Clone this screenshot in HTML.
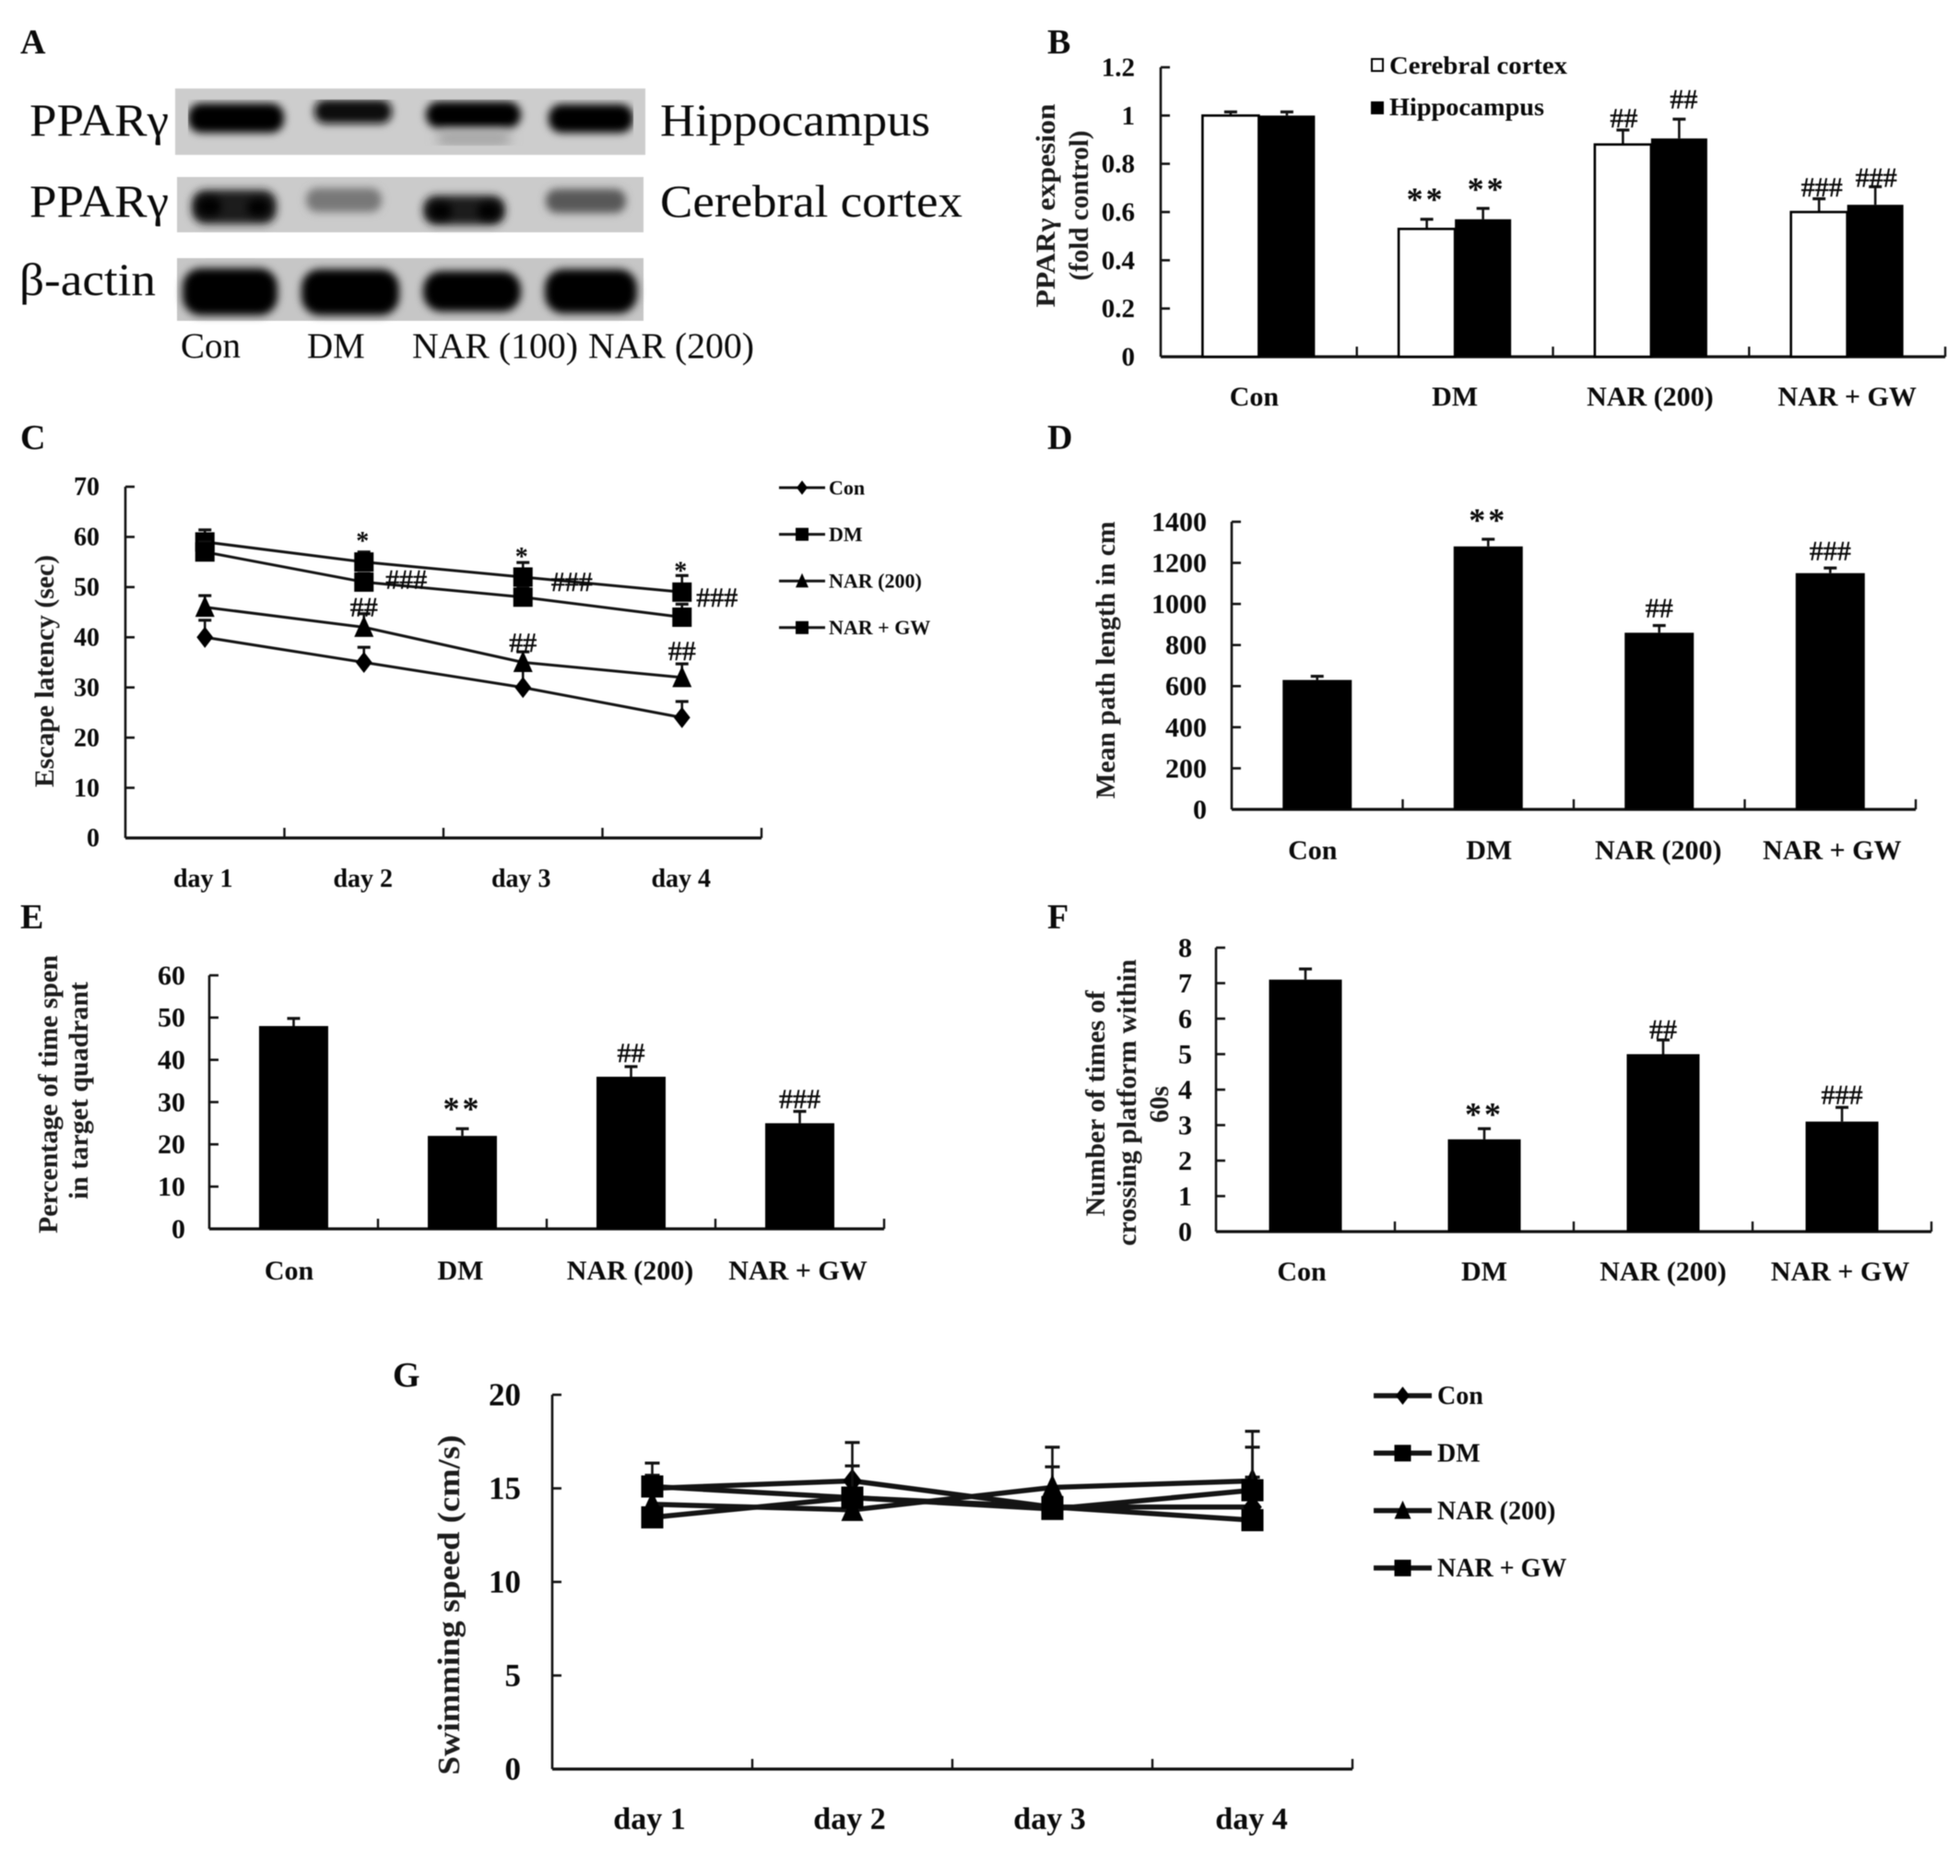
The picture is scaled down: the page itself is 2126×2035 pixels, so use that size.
<!DOCTYPE html>
<html lang="en">
<head>
<meta charset="utf-8">
<title>PPARγ expression and behavioural panels A–G</title>
<style>
  html, body { margin: 0; padding: 0; background: #fff; }
  #figure { display: block; width: 2126px; height: 2035px; filter: blur(0.5px); }
  text { font-family: "Liberation Serif", "Noto Serif CJK SC", serif; fill: #0a0a0a; }
  .letter { font-size: 38px; font-weight: bold; }
  .blot-label { font-size: 50px; font-weight: normal; }
  .lane-label { font-size: 39px; font-weight: normal; }
  .axis-title { font-size: 30px; font-weight: bold; fill: #1c1c1c; }
</style>
</head>
<body>
<svg id="figure" xmlns="http://www.w3.org/2000/svg" width="2126" height="2035" viewBox="0 0 2126 2035">
  <defs>
    <filter id="band-blur" x="-30%" y="-60%" width="160%" height="220%"><feGaussianBlur stdDeviation="4.5"></feGaussianBlur></filter>
    <filter id="soft-blur" x="-30%" y="-60%" width="160%" height="220%"><feGaussianBlur stdDeviation="6"></feGaussianBlur></filter>
    <filter id="halo-blur" x="-30%" y="-60%" width="160%" height="220%"><feGaussianBlur stdDeviation="7"></feGaussianBlur></filter>
  </defs>
  <rect width="2126" height="2035" fill="#fff"></rect>

  <text class="letter" x="22" y="58">A</text>
  <text class="letter" x="1136" y="58">B</text>
  <text class="letter" x="22" y="487">C</text>
  <text class="letter" x="1136" y="487">D</text>
  <text class="letter" x="22" y="1007">E</text>
  <text class="letter" x="1136" y="1007">F</text>
  <text class="letter" x="426" y="1504">G</text>

  <g>
    <g>
      <rect x="190" y="96" width="510" height="72" fill="#cdcdcd"></rect>
      <g clip-path="inset(0)">
        <rect x="204" y="112" width="104" height="32" rx="14" fill="#000" filter="url(#band-blur)"></rect>
        <rect x="341" y="108" width="84" height="26" rx="12" fill="#0c0c0c" filter="url(#band-blur)"></rect>
        <rect x="462" y="110" width="103" height="29" rx="14" fill="#000" filter="url(#band-blur)"></rect>
        <rect x="595" y="113" width="92" height="31" rx="14" fill="#000" filter="url(#band-blur)"></rect>
        <rect x="474" y="142" width="80" height="16" rx="8" fill="#a4a4a4" filter="url(#soft-blur)"></rect>
      </g>
    </g>
    <g>
      <rect x="192" y="192" width="506" height="60" fill="#cbcbcb"></rect>
      <rect x="208" y="206" width="92" height="37" rx="15" fill="#1d1d1d" filter="url(#band-blur)"></rect>
      <rect x="214" y="214" width="26" height="20" rx="10" fill="#000" filter="url(#band-blur)"></rect>
      <rect x="268" y="216" width="24" height="18" rx="9" fill="#000" filter="url(#band-blur)"></rect>
      <rect x="332" y="204" width="82" height="26" rx="12" fill="#787878" filter="url(#band-blur)"></rect>
      <rect x="459" y="212" width="89" height="32" rx="14" fill="#1a1a1a" filter="url(#band-blur)"></rect>
      <rect x="466" y="220" width="24" height="18" rx="9" fill="#000" filter="url(#band-blur)"></rect>
      <rect x="518" y="220" width="24" height="18" rx="9" fill="#000" filter="url(#band-blur)"></rect>
      <rect x="592" y="205" width="87" height="26" rx="12" fill="#585858" filter="url(#band-blur)"></rect>
    </g>
    <g>
      <rect x="192" y="280" width="506" height="68" fill="#c6c6c6"></rect>
      <rect x="198" y="291" width="103" height="51" rx="20" fill="#000" filter="url(#band-blur)"></rect>
      <rect x="327" y="292" width="106" height="50" rx="20" fill="#000" filter="url(#band-blur)"></rect>
      <rect x="459" y="294" width="106" height="44" rx="20" fill="#000" filter="url(#band-blur)"></rect>
      <rect x="591" y="292" width="100" height="48" rx="20" fill="#000" filter="url(#band-blur)"></rect>
    </g>
    <text class="blot-label" x="32" y="147" textLength="151" lengthAdjust="spacingAndGlyphs">PPARγ</text>
    <text class="blot-label" x="32" y="235" textLength="151" lengthAdjust="spacingAndGlyphs">PPARγ</text>
    <text class="blot-label" x="21" y="320" textLength="148" lengthAdjust="spacingAndGlyphs">β-actin</text>
    <text class="blot-label" x="716" y="147" textLength="293" lengthAdjust="spacingAndGlyphs">Hippocampus</text>
    <text class="blot-label" x="716" y="235" textLength="328" lengthAdjust="spacingAndGlyphs">Cerebral cortex</text>
    <text class="lane-label" x="196" y="388">Con</text>
    <text class="lane-label" x="333" y="388">DM</text>
    <text class="lane-label" x="447" y="388" textLength="180" lengthAdjust="spacingAndGlyphs">NAR (100)</text>
    <text class="lane-label" x="638" y="388" textLength="180" lengthAdjust="spacingAndGlyphs">NAR (200)</text>
  </g>

  <text class="axis-title" transform="translate(1144,223) rotate(-90)" text-anchor="middle" textLength="221" lengthAdjust="spacingAndGlyphs">PPARγ expesion</text>
  <text class="axis-title" transform="translate(1180,223) rotate(-90)" text-anchor="middle" textLength="163" lengthAdjust="spacingAndGlyphs">(fold control)</text>
  <text class="axis-title" transform="translate(58,728) rotate(-90)" text-anchor="middle" textLength="252" lengthAdjust="spacingAndGlyphs">Escape latency (sec)</text>
  <text class="axis-title" transform="translate(1209,716) rotate(-90)" text-anchor="middle" textLength="301" lengthAdjust="spacingAndGlyphs">Mean path length in cm</text>
  <text class="axis-title" transform="translate(62,1187) rotate(-90)" text-anchor="middle" textLength="302" lengthAdjust="spacingAndGlyphs">Percentage of time spen</text>
  <text class="axis-title" transform="translate(95,1183) rotate(-90)" text-anchor="middle" textLength="236" lengthAdjust="spacingAndGlyphs">in target quadrant</text>
  <text class="axis-title" transform="translate(1198,1197) rotate(-90)" text-anchor="middle" textLength="245" lengthAdjust="spacingAndGlyphs">Number of times of</text>
  <text class="axis-title" transform="translate(1232,1196) rotate(-90)" text-anchor="middle" textLength="311" lengthAdjust="spacingAndGlyphs">crossing platform within</text>
  <text class="axis-title" transform="translate(1267,1198) rotate(-90)" text-anchor="middle" textLength="40" lengthAdjust="spacingAndGlyphs">60s</text>
  <text class="axis-title" style="font-size:34px" transform="translate(498,1741) rotate(-90)" text-anchor="middle" textLength="369" lengthAdjust="spacingAndGlyphs">Swimming speed (cm/s)</text>
</svg>

<script>
// ---- shared categories ----
const groupCategories = ["Con", "DM", "NAR (200)", "NAR + GW"];
const dayCategories = ["day 1", "day 2", "day 3", "day 4"];
const lineSeriesNames = ["Con", "DM", "NAR (200)", "NAR + GW"];

// ---- panel B ----
const bTicks = ["0", "0.2", "0.4", "0.6", "0.8", "1", "1.2"];
const bTickValues = [0, 0.2, 0.4, 0.6, 0.8, 1, 1.2];
const bCortex = [1, 0.53, 0.88, 0.6];
const bCortexErrTop = [1.015, 0.57, 0.94, 0.655];
const bHippocampus = [1, 0.57, 0.905, 0.63];
const bHippocampusErrTop = [1.015, 0.615, 0.985, 0.705];
const bCortexSig = ["", "**", "##", "###"];
const bHippocampusSig = ["", "**", "##", "###"];

// ---- panel C ----
const cTicks = ["0", "10", "20", "30", "40", "50", "60", "70"];
const cTickValues = [0, 10, 20, 30, 40, 50, 60, 70];
const cCon = [40, 35, 30, 24];
const cConErrTop = [43.4, 38, 33.7, 27.2];
const cDm = [59, 55, 52, 49];
const cDmErrTop = [61.4, 57, 54.9, 52.3];
const cNar = [46, 42, 35, 32];
const cNarErrTop = [48.3, 44.7, 37.1, 34.7];
const cGw = [57, 51, 48, 44];
const cGwErrTop = [59, 52.7, 49.8, 46.6];
const cDmSig = ["", "*", "*", "*"];
const cNarSig = ["", "##", "##", "##"];
const cGwSig = ["", "###", "###", "###"];

// ---- panel D ----
const dTicks = ["0", "200", "400", "600", "800", "1000", "1200", "1400"];
const dTickValues = [0, 200, 400, 600, 800, 1000, 1200, 1400];
const dValues = [630, 1280, 860, 1150];
const dErrTop = [648, 1315, 895, 1175];
const dSig = ["", "**", "##", "###"];

// ---- panel E ----
const eTicks = ["0", "10", "20", "30", "40", "50", "60"];
const eTickValues = [0, 10, 20, 30, 40, 50, 60];
const eValues = [48, 22, 36, 25];
const eErrTop = [49.8, 23.7, 38.4, 27.8];
const eSig = ["", "**", "##", "###"];

// ---- panel F ----
const fTicks = ["0", "1", "2", "3", "4", "5", "6", "7", "8"];
const fTickValues = [0, 1, 2, 3, 4, 5, 6, 7, 8];
const fValues = [7.1, 2.6, 5, 3.1];
const fErrTop = [7.4, 2.9, 5.4, 3.5];
const fSig = ["", "**", "##", "###"];

// ---- panel G ----
const gTicks = ["0", "5", "10", "15", "20"];
const gTickValues = [0, 5, 10, 15, 20];
const gCon = [15, 15.4, 14, 14];
const gConErrTop = [15.7, 17.45, 16.15, 15.6];
const gDm = [15.1, 14.5, 14, 13.3];
const gDmErrTop = [16.35, 16.2, 14, 13.3];
const gNar = [14.15, 13.85, 15.05, 15.4];
const gNarErrTop = [14.15, 13.85, 17.2, 18.05];
const gGw = [13.45, 14.5, 13.9, 14.9];
const gGwErrTop = [13.45, 14.5, 13.9, 17.2];

const svgNS = "http://www.w3.org/2000/svg";
const root = document.getElementById("figure");

function mk(parent, tag, attrs, name, text) {
  const el = document.createElementNS(svgNS, tag);
  for (const k in attrs) el.setAttribute(k, attrs[k]);
  
  
  if (text !== undefined) el.textContent = text;
  parent.appendChild(el);
  return el;
}
function scale(d0, d1, r0, r1) {
  return function (v) { return r0 + (v - d0) / (d1 - d0) * (r1 - r0); };
}

function drawAxes(id, g, box, yMax, tickLabels, tickValues, cats, opt) {
  const y = scale(0, yMax, box.y0, box.y1);
  const n = cats.length;
  const band = (box.x1 - box.x0) / n;
  const xc = function (i) { return box.x0 + (i + 0.5) * band; };
  mk(g, "line", { x1: box.x0, x2: box.x0, y1: box.y1, y2: box.y0, stroke: "#111", "stroke-width": 2.6 }, id + "-y-axis");
  mk(g, "line", { x1: box.x0, x2: box.x1, y1: box.y0, y2: box.y0, stroke: "#111", "stroke-width": 3.2 }, id + "-x-axis");
  tickValues.forEach(function (v, i) {
    mk(g, "line", { x1: box.x0, x2: box.x0 + 10, y1: y(v), y2: y(v), stroke: "#111", "stroke-width": 2.6 }, id + "-y-tick");
    mk(g, "text", { x: opt.tickRight, y: y(v) + opt.tickFont * 0.33, "text-anchor": "end", "font-size": opt.tickFont, "font-weight": "bold" }, id + "-y-tick-label", tickLabels[i]);
  });
  for (let i = 1; i <= n; i++) {
    const x = box.x0 + i * band;
    mk(g, "line", { x1: x, x2: x, y1: box.y0, y2: box.y0 - 11, stroke: "#111", "stroke-width": 2.4 }, id + "-x-tick");
  }
  cats.forEach(function (c, i) {
    mk(g, "text", { x: xc(i) + (opt.labelDx ? opt.labelDx[i] : 0), y: opt.labelY, "text-anchor": "middle", "font-size": opt.labelFont, "font-weight": "bold" }, id + "-x-label", c);
  });
  return { y: y, xc: xc };
}

function errBar(g, name, x, yTop, yBase, cap, w) {
  mk(g, "line", { x1: x, x2: x, y1: yTop, y2: yBase, stroke: "#111", "stroke-width": w }, name);
  mk(g, "line", { x1: x - cap / 2, x2: x + cap / 2, y1: yTop, y2: yTop, stroke: "#111", "stroke-width": w + 0.6 }, name + "-cap");
}

function sig(g, name, label, x, yc, fs) {
  if (!label) return;
  const star = label.charAt(0) === "*";
  const base = star ? yc + fs * 0.47 : yc + fs * 0.34;
  const attrs = { x: x, y: base, "text-anchor": "middle", "font-size": fs, "font-weight": star ? "bold" : "normal" };
  if (star) { attrs["letter-spacing"] = "3"; }
  else { attrs["stroke"] = "#000"; attrs["stroke-width"] = "0.5"; }
  mk(g, "text", attrs, name, label);
}

function barChart(id, box, yMax, tickLabels, tickValues, opt, values, errs, sigs, gaps) {
  const g = mk(root, "g", {}, id + "-chart");
  const ax = drawAxes(id, g, box, yMax, tickLabels, tickValues, groupCategories, opt);
  values.forEach(function (v, i) {
    const x = ax.xc(i);
    errBar(g, id + "-error-bar", x, ax.y(errs[i]), ax.y(v), 14, 2.6);
    mk(g, "rect", { x: x - opt.barW / 2, y: ax.y(v), width: opt.barW, height: box.y0 - ax.y(v), fill: "#000" }, id + "-bar-" + i);
    sig(g, id + "-significance", sigs[i], x, ax.y(errs[i]) - gaps[i], sigs[i].charAt(0) === "*" ? 36 : 30);
  });
}

// Panel B (grouped)
(function () {
  const box = { x0: 1259, x1: 2110, y0: 387, y1: 73 };
  const opt = { tickRight: 1231, tickFont: 29, labelY: 440, labelFont: 30, labelDx: [-5, 0, -1, 0] };
  const g = mk(root, "g", {}, "b-chart");
  const ax = drawAxes("b", g, box, 1.2, bTicks, bTickValues, groupCategories, opt);
  const w = 61;
  const cortexGap = [0, 27, 13, 13];
  const hipGap = [0, 26, 22, 10];
  const cortexDx = [0, -1, 1, 3];
  const hipDx = [0, 4, 5, 1];
  groupCategories.forEach(function (c, i) {
    const xa = ax.xc(i) - w / 2, xb = ax.xc(i) + w / 2;
    errBar(g, "b-cortex-error-bar", xa, ax.y(bCortexErrTop[i]), ax.y(bCortex[i]), 14, 2.6);
    errBar(g, "b-hippocampus-error-bar", xb, ax.y(bHippocampusErrTop[i]), ax.y(bHippocampus[i]), 14, 2.6);
    mk(g, "rect", { x: xa - w / 2, y: ax.y(bCortex[i]), width: w, height: box.y0 - ax.y(bCortex[i]), fill: "#fff", stroke: "#000", "stroke-width": 2.6 }, "b-cortex-bar-" + i);
    mk(g, "rect", { x: xb - w / 2, y: ax.y(bHippocampus[i]), width: w, height: box.y0 - ax.y(bHippocampus[i]), fill: "#000" }, "b-hippocampus-bar-" + i);
    sig(g, "b-cortex-significance", bCortexSig[i], xa + cortexDx[i], ax.y(bCortexErrTop[i]) - cortexGap[i], bCortexSig[i].charAt(0) === "*" ? 36 : 30);
    sig(g, "b-hippocampus-significance", bHippocampusSig[i], xb + hipDx[i], ax.y(bHippocampusErrTop[i]) - hipGap[i], bHippocampusSig[i].charAt(0) === "*" ? 36 : 30);
  });
  const lg = mk(g, "g", {}, "b-legend");
  mk(lg, "rect", { x: 1488, y: 64, width: 12, height: 13, fill: "#fff", stroke: "#000", "stroke-width": 2 }, "legend-swatch-cerebral-cortex");
  mk(lg, "rect", { x: 1487, y: 110, width: 14, height: 14, fill: "#000" }, "legend-swatch-hippocampus");
  mk(lg, "text", { x: 1507, y: 80, "font-size": 27, "font-weight": "bold", textLength: 193, lengthAdjust: "spacingAndGlyphs" }, "legend-label-cerebral-cortex", "Cerebral cortex");
  mk(lg, "text", { x: 1507, y: 125, "font-size": 27, "font-weight": "bold", textLength: 168, lengthAdjust: "spacingAndGlyphs" }, "legend-label-hippocampus", "Hippocampus");
})();

barChart("d", { x0: 1336, x1: 2078, y0: 878, y1: 566 }, 1400, dTicks, dTickValues,
  { tickRight: 1309, tickFont: 30, labelY: 932, labelFont: 30, barW: 75, labelDx: [-5, 1, -1, 2] },
  dValues, dErrTop, dSig, [0, 26, 19, 19]);

barChart("e", { x0: 227, x1: 959, y0: 1333, y1: 1058 }, 60, eTicks, eTickValues,
  { tickRight: 201, tickFont: 30, labelY: 1388, labelFont: 30, barW: 75, labelDx: [-5, -2, -1, -2] },
  eValues, eErrTop, eSig, [0, 27, 15, 14]);

barChart("f", { x0: 1319, x1: 2095, y0: 1336, y1: 1028 }, 8, fTicks, fTickValues,
  { tickRight: 1293, tickFont: 30, labelY: 1389, labelFont: 30, barW: 79, labelDx: [-4, 0, 0, -2] },
  fValues, fErrTop, fSig, [0, 21, 12, 14]);

function marker(g, name, type, x, y, s) {
  const h = s / 2;
  if (type === "square") {
    mk(g, "rect", { x: x - h, y: y - h, width: s, height: s, fill: "#000" }, name);
  } else if (type === "triangle") {
    mk(g, "polygon", { points: (x - h) + "," + (y + h) + " " + (x + h) + "," + (y + h) + " " + x + "," + (y - h * 1.2), fill: "#000" }, name);
  } else {
    mk(g, "polygon", { points: x + "," + (y - h * 1.1) + " " + (x + h * 0.85) + "," + y + " " + x + "," + (y + h * 1.1) + " " + (x - h * 0.85) + "," + y, fill: "#000" }, name);
  }
}

const markerTypes = ["diamond", "square", "triangle", "square"];

function lineChart(id, box, yMax, tickLabels, tickValues, opt, seriesList, errList) {
  const g = mk(root, "g", {}, id + "-chart");
  const ax = drawAxes(id, g, box, yMax, tickLabels, tickValues, dayCategories, opt);
  seriesList.forEach(function (vals, s) {
    const sg = mk(g, "g", {}, id + "-series-" + markerTypes[s] + "-" + s);
    vals.forEach(function (v, i) {
      if (errList[s][i] > v) errBar(sg, id + "-error-bar", ax.xc(i), ax.y(errList[s][i]), ax.y(v), opt.cap, 2.6);
    });
    const pts = vals.map(function (v, i) { return ax.xc(i) + "," + ax.y(v); }).join(" ");
    mk(sg, "polyline", { points: pts, fill: "none", stroke: "#141414", "stroke-width": opt.lineW }, id + "-line-" + s);
    vals.forEach(function (v, i) {
      marker(sg, id + "-point", markerTypes[s], ax.xc(i), ax.y(v), opt.markerSize);
    });
  });
  const lg = mk(g, "g", {}, id + "-legend");
  lineSeriesNames.forEach(function (nm, s) {
    const ly = opt.legendY + s * opt.legendStep;
    mk(lg, "line", { x1: opt.legendX0, x2: opt.legendX1, y1: ly, y2: ly, stroke: "#141414", "stroke-width": opt.lineW }, id + "-legend-line");
    marker(lg, id + "-legend-marker", markerTypes[s], (opt.legendX0 + opt.legendX1) / 2, ly, opt.legendMarker);
    mk(lg, "text", { x: opt.legendX1 + opt.legendGap, y: ly + opt.legendFont * 0.33, "font-size": opt.legendFont, "font-weight": "bold" }, id + "-legend-label", nm);
  });
  return ax;
}

// Panel C
(function () {
  const ax = lineChart("c", { x0: 136, x1: 826, y0: 909, y1: 528 }, 70, cTicks, cTickValues,
    { tickRight: 108, tickFont: 28, labelY: 962, labelFont: 28, labelDx: [-2, -1, -2, -1], cap: 14, lineW: 3, markerSize: 21,
      legendX0: 845, legendX1: 895, legendY: 529, legendStep: 50.6, legendGap: 4, legendMarker: 14, legendFont: 22 },
    [cCon, cDm, cNar, cGw], [cConErrTop, cDmErrTop, cNarErrTop, cGwErrTop]);
  const g = mk(root, "g", {}, "c-significance-labels");
  const dmGap = [0, 27, 26, 27];
  const narGap = [0, 22, 21.5, 29];
  const gwGap = [0, 3, 17, 21.5];
  const gwDx = [0, 46, 53, 38];
  dayCategories.forEach(function (d, i) {
    sig(g, "c-dm-significance", cDmSig[i], ax.xc(i), ax.y(cDm[i]) - dmGap[i], 28);
    sig(g, "c-nar-significance", cNarSig[i], ax.xc(i), ax.y(cNar[i]) - narGap[i], 30);
    sig(g, "c-gw-significance", cGwSig[i], ax.xc(i) + gwDx[i], ax.y(cGw[i]) - gwGap[i], 30);
  });
})();

// Panel G
lineChart("g", { x0: 599, x1: 1467, y0: 1919, y1: 1513 }, 20, gTicks, gTickValues,
  { tickRight: 565, tickFont: 35, labelY: 1984, labelFont: 34, labelDx: [-3, -3, -3, -1], cap: 16, lineW: 5.5, markerSize: 24,
    legendX0: 1490, legendX1: 1553, legendY: 1514, legendStep: 62.3, legendGap: 6, legendMarker: 18, legendFont: 28 },
  [gCon, gDm, gNar, gGw], [gConErrTop, gDmErrTop, gNarErrTop, gGwErrTop]);
</script>
</body>
</html>
